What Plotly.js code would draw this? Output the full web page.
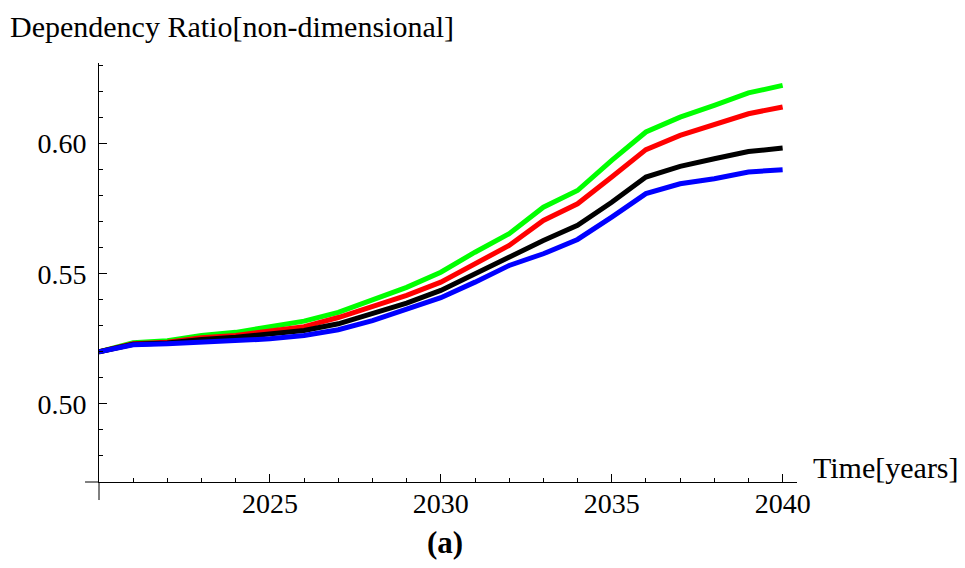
<!DOCTYPE html>
<html><head><meta charset="utf-8">
<script src="https://cdn.plot.ly/plotly-3.0.1.min.js"></script>
<style>html,body{margin:0;padding:0;background:#fff}</style>
</head><body><div id="chart" style="width:965px;height:568px"></div>
<script>
const years = [2020,2021,2022,2023,2024,2025,2026,2027,2028,2029,2030,2031,2032,2033,2034,2035,2036,2037,2038,2039,2040];
const greenSeries = [0.5200,0.5235,0.5243,0.5263,0.5275,0.5295,0.5318,0.5352,0.5400,0.5448,0.5506,0.5583,0.5654,0.5756,0.5820,0.5936,0.6045,0.6102,0.6147,0.6195,0.6224];
const redSeries   = [0.5200,0.5231,0.5237,0.5254,0.5263,0.5279,0.5297,0.5332,0.5372,0.5417,0.5468,0.5538,0.5609,0.5705,0.5769,0.5872,0.5977,0.6032,0.6074,0.6115,0.6141];
const blackSeries = [0.5200,0.5229,0.5234,0.5248,0.5256,0.5267,0.5282,0.5308,0.5346,0.5387,0.5436,0.5500,0.5564,0.5628,0.5686,0.5775,0.5872,0.5913,0.5942,0.5970,0.5983];
const blueSeries  = [0.5200,0.5227,0.5231,0.5237,0.5241,0.5250,0.5263,0.5285,0.5320,0.5362,0.5408,0.5468,0.5532,0.5577,0.5632,0.5718,0.5808,0.5846,0.5865,0.5891,0.5900];
const xTickVals = [2025,2030,2035,2040];
const xTickText = ['2025','2030','2035','2040'];
const yTickVals = [0.50,0.55,0.60];
const yTickText = ['0.50','0.55','0.60'];
const yTitle = 'Dependency Ratio[non-dimensional]';
const xTitle = 'Time[years]';
const panelLabel = '<b>(a)</b>';

const FONT = 'Liberation Serif, Times New Roman, serif';
function tr(y, color){
  return {x: years, y: y, type:'scatter', mode:'lines', line:{color:color, width:5}, hoverinfo:'skip', showlegend:false};
}
const data = [tr(greenSeries,'#00ff00'), tr(redSeries,'#ff0000'), tr(blackSeries,'#000000'), tr(blueSeries,'#0000ff')];

const layout = {
  width:965, height:568,
  margin:{l:99, r:168, t:63, b:86, pad:0},
  paper_bgcolor:'#fff', plot_bgcolor:'#fff',
  font:{family:FONT, size:28, color:'#000'},
  showlegend:false,
  xaxis:{range:[2020,2040.42], showgrid:false, zeroline:false, showline:true, linecolor:'#000', linewidth:1,
    tickmode:'array', tickvals:xTickVals, ticktext:xTickText, ticks:'inside', ticklen:8, tickwidth:1, tickcolor:'#000',
    minor:{dtick:1, tick0:2020, ticks:'inside', ticklen:4, tickwidth:1, tickcolor:'#000'},
    ticklabelstandoff:-4, tickfont:{family:FONT, size:28, color:'#000'}, fixedrange:true},
  yaxis:{range:[0.47,0.631], showgrid:false, zeroline:false, showline:true, linecolor:'#000', linewidth:1,
    tickmode:'array', tickvals:yTickVals, ticktext:yTickText, ticks:'inside', ticklen:8, tickwidth:1, tickcolor:'#000',
    minor:{dtick:0.01, tick0:0.47, ticks:'inside', ticklen:4, tickwidth:1, tickcolor:'#000'},
    ticklabelstandoff:6, tickfont:{family:FONT, size:28, color:'#000'}, fixedrange:true},
  shapes:[
    {type:'line', xref:'paper', yref:'paper', x0:0, x1:0, y0:-0.043, y1:0, line:{color:'#000', width:1}},
    {type:'line', xref:'paper', yref:'paper', x0:-0.02, x1:0, y0:0, y1:0, line:{color:'#000', width:1}}
  ],
  annotations:[
    {text:yTitle, xref:'paper', yref:'paper', x:-0.131, y:1.0876, xanchor:'left', yanchor:'middle', showarrow:false, font:{family:FONT, size:30, color:'#000'}},
    {text:xTitle, xref:'paper', yref:'paper', x:1.0205, y:0.035, xanchor:'left', yanchor:'middle', showarrow:false, font:{family:FONT, size:30, color:'#000'}},
    {text:panelLabel, xref:'paper', yref:'paper', x:0.495, y:-0.145, xanchor:'center', yanchor:'middle', showarrow:false, font:{family:FONT, size:31, color:'#000'}}
  ]
};
Plotly.newPlot('chart', data, layout, {displayModeBar:false, staticPlot:true});
</script></body></html>
